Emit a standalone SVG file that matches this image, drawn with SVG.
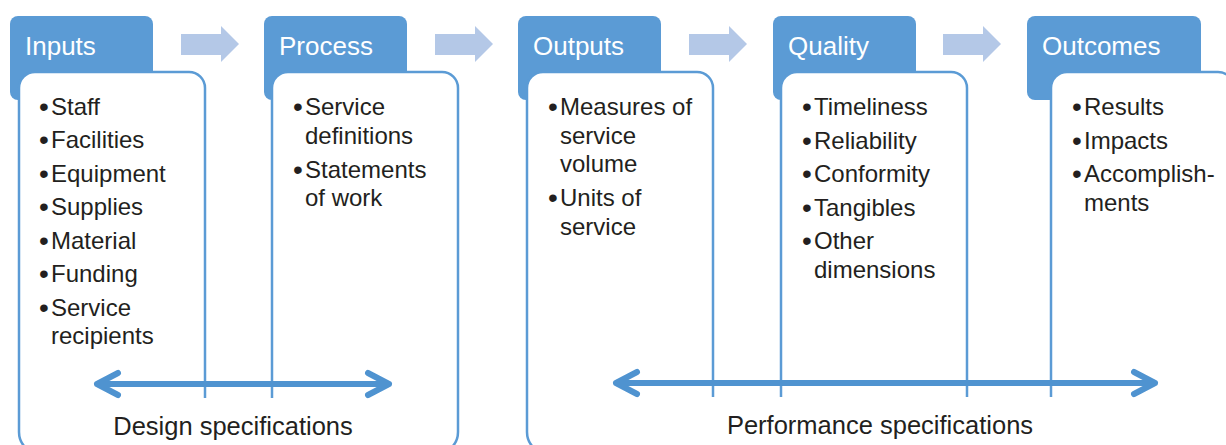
<svg xmlns="http://www.w3.org/2000/svg" width="1226" height="445" viewBox="0 0 1226 445">
<defs>
<style>
.hdr{fill:#5b9bd5;}
.box{fill:#ffffff;stroke:#5b9bd5;stroke-width:2.5;}
.flow{fill:#b4c8e7;}
.span{fill:none;stroke:#4f93d0;stroke-width:6;stroke-linecap:round;stroke-linejoin:round;}
.ht{font-family:"Liberation Sans",Arial,sans-serif;font-size:26px;fill:#ffffff;}
.bt{font-family:"Liberation Sans",Arial,sans-serif;font-size:24px;fill:#231f20;}
.bl{font-size:28px;}
.lt{font-family:"Liberation Sans",Arial,sans-serif;font-size:25.5px;fill:#231f20;text-anchor:middle;}
</style>
<polygon id="flowArrow" class="flow" points="0,34 40,34 40,26 58,44 40,62 40,55 0,55"/>
</defs>
<rect width="1226" height="445" fill="#ffffff"/>

<!-- headers -->
<g id="hdr-inputs"><rect class="hdr" x="10" y="16" width="143" height="84" rx="8"/></g>
<g id="hdr-process"><rect class="hdr" x="264" y="16" width="143" height="84" rx="8"/></g>
<g id="hdr-outputs"><rect class="hdr" x="518" y="16" width="143" height="84" rx="8"/></g>
<g id="hdr-quality"><rect class="hdr" x="773" y="16" width="143" height="84" rx="8"/></g>
<g id="hdr-outcomes"><rect class="hdr" x="1027" y="16" width="174" height="84" rx="8"/></g>

<!-- group frames and content boxes -->
<g id="design-group">
<path class="box" d="M205,398 V88 A16,16 0 0 0 189,72 H35 A16,16 0 0 0 19,88 V432 A22,22 0 0 0 41,454 H436 A22,22 0 0 0 458,432 V88 A16,16 0 0 0 442,72 H288 A16,16 0 0 0 272,88 V398"/>
</g>
<g id="performance-group">
<path class="box" d="M713,397 V88 A16,16 0 0 0 697,72 H543 A16,16 0 0 0 527,88 V432 A22,22 0 0 0 549,454 H1260 V88 L1234,88 A16,16 0 0 0 1218,72 H1067 A16,16 0 0 0 1051,88 V397"/>
<path class="box" d="M781,397 V88 A16,16 0 0 1 797,72 H951 A16,16 0 0 1 967,88 V397"/>
</g>

<!-- connectors -->
<g id="connectors">
<use href="#flowArrow" x="181"/>
<use href="#flowArrow" x="435"/>
<use href="#flowArrow" x="689"/>
<use href="#flowArrow" x="943"/>
<path class="span" d="M97,384 H389 M118,373 L97,384 L118,395 M368,373 L389,384 L368,395"/>
<path class="span" d="M616,383 H1155 M637,372 L616,383 L637,394 M1134,372 L1155,383 L1134,394"/>
</g>

<!-- texts -->
<g id="t-inputs"><text class="ht" x="25" y="55">Inputs</text>
<text class="bt"><tspan class="bl" x="39" y="116">•</tspan><tspan x="51" y="115">Staff</tspan></text>
<text class="bt"><tspan class="bl" x="39" y="149">•</tspan><tspan x="51" y="148">Facilities</tspan></text>
<text class="bt"><tspan class="bl" x="39" y="183">•</tspan><tspan x="51" y="182">Equipment</tspan></text>
<text class="bt"><tspan class="bl" x="39" y="216">•</tspan><tspan x="51" y="215">Supplies</tspan></text>
<text class="bt"><tspan class="bl" x="39" y="250">•</tspan><tspan x="51" y="249">Material</tspan></text>
<text class="bt"><tspan class="bl" x="39" y="283">•</tspan><tspan x="51" y="282">Funding</tspan></text>
<text class="bt"><tspan class="bl" x="39" y="317">•</tspan><tspan x="51" y="316">Service</tspan></text>
<text class="bt" x="51" y="344">recipients</text>
</g>
<g id="t-process"><text class="ht" x="279" y="55">Process</text>
<text class="bt"><tspan class="bl" x="293" y="116">•</tspan><tspan x="305" y="115">Service</tspan></text>
<text class="bt" x="305" y="144">definitions</text>
<text class="bt"><tspan class="bl" x="293" y="179">•</tspan><tspan x="305" y="178">Statements</tspan></text>
<text class="bt" x="305" y="206">of work</text>
</g>
<g id="t-outputs"><text class="ht" x="533" y="55">Outputs</text>
<text class="bt"><tspan class="bl" x="548" y="116">•</tspan><tspan x="560" y="115">Measures of</tspan></text>
<text class="bt" x="560" y="144">service</text>
<text class="bt" x="560" y="172">volume</text>
<text class="bt"><tspan class="bl" x="548" y="207">•</tspan><tspan x="560" y="206">Units of</tspan></text>
<text class="bt" x="560" y="235">service</text>
</g>
<g id="t-quality"><text class="ht" x="788" y="55">Quality</text>
<text class="bt"><tspan class="bl" x="802" y="116">•</tspan><tspan x="814" y="115">Timeliness</tspan></text>
<text class="bt"><tspan class="bl" x="802" y="150">•</tspan><tspan x="814" y="149">Reliability</tspan></text>
<text class="bt"><tspan class="bl" x="802" y="183">•</tspan><tspan x="814" y="182">Conformity</tspan></text>
<text class="bt"><tspan class="bl" x="802" y="217">•</tspan><tspan x="814" y="216">Tangibles</tspan></text>
<text class="bt"><tspan class="bl" x="802" y="250">•</tspan><tspan x="814" y="249">Other</tspan></text>
<text class="bt" x="814" y="278">dimensions</text>
</g>
<g id="t-outcomes"><text class="ht" x="1042" y="55">Outcomes</text>
<text class="bt"><tspan class="bl" x="1072" y="116">•</tspan><tspan x="1084" y="115">Results</tspan></text>
<text class="bt"><tspan class="bl" x="1072" y="150">•</tspan><tspan x="1084" y="149">Impacts</tspan></text>
<text class="bt"><tspan class="bl" x="1072" y="183">•</tspan><tspan x="1084" y="182">Accomplish-</tspan></text>
<text class="bt" x="1084" y="211">ments</text>
</g>
<g id="labels">
<text class="lt" x="233" y="435">Design specifications</text>
<text class="lt" x="880" y="434">Performance specifications</text>
</g>
</svg>
